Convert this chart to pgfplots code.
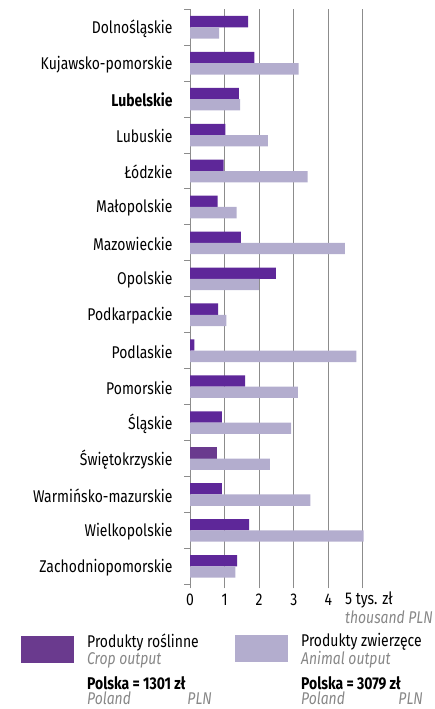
\documentclass[border=0pt]{standalone}
\usepackage{pgfplots}
\pgfplotsset{compat=1.18}
\usepackage{fontspec}
\setmainfont{Fira Sans}[FakeStretch=0.82]
\definecolor{cropc}{RGB}{94,39,153}
\definecolor{cropd}{RGB}{106,58,142}
\definecolor{anim}{RGB}{179,173,206}
\definecolor{gridc}{RGB}{140,140,140}
\definecolor{ital}{RGB}{135,135,135}
\newcommand{\fs}{\fontsize{17}{20}\selectfont}
\begin{document}
\begin{tikzpicture}[x=1pt,y=1pt]
\useasboundingbox (0pt,0pt) rectangle (434pt,-709pt);
\begin{axis}[
  at={(190pt,-584.3pt)}, anchor=south west,
  scale only axis, width=174.7pt, height=575pt,
  xmin=0, xmax=5.05, ymin=-0.5, ymax=15.5, y dir=reverse,
  xbar, bar width=11.3pt,
  axis lines*=left,
  x axis line style={draw=none},
  y axis line style={draw=gridc, line width=1pt},
  xtick={0,1,2,3,4,5},
  xticklabels={0,1,2,3,4,{}},
  xmajorgrids, grid style={draw=gridc, line width=1pt},
  tick align=outside,
  major tick length=4pt,
  x tick style={draw=gridc, line width=1pt},
  ytick={0,...,15},
  yticklabels={Dolnośląskie,Kujawsko-pomorskie,\textbf{Lubelskie},Lubuskie,Łódzkie,Małopolskie,Mazowieckie,Opolskie,Podkarpackie,Podlaskie,Pomorskie,Śląskie,Świętokrzyskie,Warmińsko-mazurskie,Wielkopolskie,Zachodniopomorskie},
  major y tick style={draw=none},
  minor ytick={-0.5,0.5,...,15.5},
  minor y tick style={draw=gridc, line width=1pt},
  minor tick length=6pt,
  every tick label/.append style={font=\fs, text=black},
  yticklabel style={anchor=east, xshift=-10pt, yshift=-1pt},
  xticklabel style={yshift=-2pt},
  /pgf/number format/assume math mode=true,
  clip=false,
]
\addplot[fill=cropc, draw=none, bar shift=5.65pt] coordinates {
(1.68,0) (1.86,1) (1.41,2) (1.02,3) (0.97,4) (0.80,5) (1.47,6) (2.48,7)
(0.81,8) (0.13,9) (1.59,10) (0.92,11) (0.92,13) (1.71,14) (1.36,15)};
\addplot[fill=cropd, draw=none, bar shift=5.65pt] coordinates {(0.77,12)};
\addplot[fill=anim, draw=none, bar shift=-5.65pt] coordinates {
(0.84,0) (3.14,1) (1.45,2) (2.25,3) (3.40,4) (1.35,5) (4.48,6) (1.99,7)
(1.05,8) (4.81,9) (3.12,10) (2.92,11) (2.31,12) (3.48,13) (5.02,14) (1.31,15)};
\end{axis}
\node[anchor=west, inner sep=0] at (345pt,-600pt) {\fs 5 tys. zł};
\node[anchor=east, inner sep=0, text=ital] at (433pt,-617pt) {\fs\itshape thousand PLN};
\fill[cropd] (21pt,-636pt) rectangle (74pt,-663pt);
\fill[anim] (235pt,-635pt) rectangle (288pt,-662pt);
\node[anchor=west, inner sep=0] at (87pt,-642pt) {\fs Produkty roślinne};
\node[anchor=west, inner sep=0, text=ital] at (87pt,-660pt) {\fs\itshape Crop output};
\node[anchor=west, inner sep=0] at (87pt,-683pt) {\fs\bfseries Polska = 1301 zł};
\node[anchor=west, inner sep=0, text=ital] at (87pt,-698.5pt) {\fs\itshape Poland};
\node[anchor=east, inner sep=0, text=ital] at (212pt,-698.5pt) {\fs\itshape PLN};
\node[anchor=west, inner sep=0] at (301pt,-642pt) {\fs Produkty zwierzęce};
\node[anchor=west, inner sep=0, text=ital] at (301pt,-660pt) {\fs\itshape Animal output};
\node[anchor=west, inner sep=0] at (301pt,-683pt) {\fs\bfseries Polska = 3079 zł};
\node[anchor=west, inner sep=0, text=ital] at (301pt,-698.5pt) {\fs\itshape Poland};
\node[anchor=east, inner sep=0, text=ital] at (423pt,-698.5pt) {\fs\itshape PLN};
\end{tikzpicture}
\end{document}
